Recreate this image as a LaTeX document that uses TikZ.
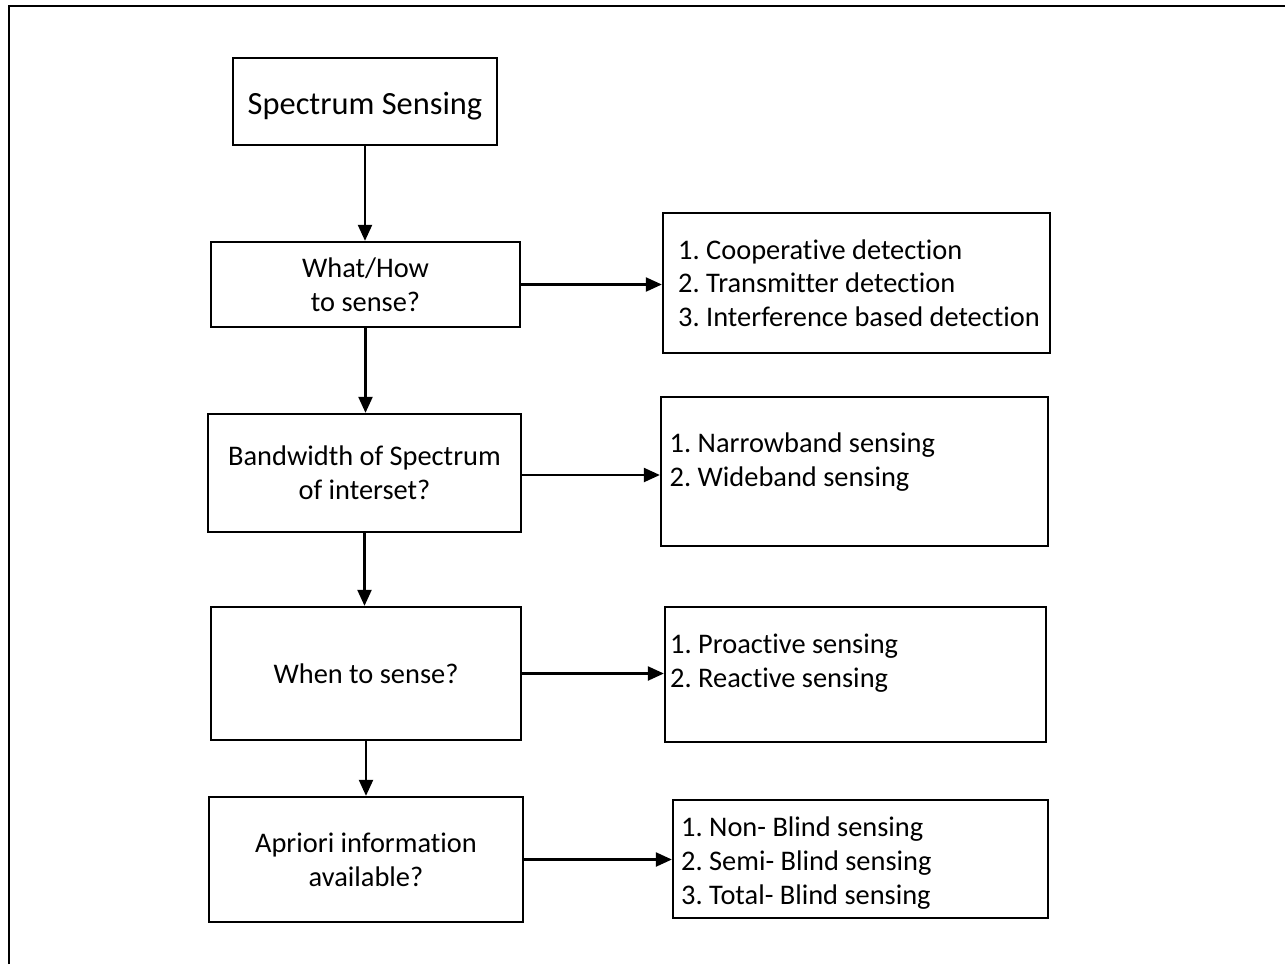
\documentclass[tikz,border=0pt]{standalone}
\usepackage{fontspec}
\setmainfont{Carlito}[Ligatures={NoCommon,NoRare}]
\frenchspacing
\usetikzlibrary{arrows.meta}
\begin{document}
\begin{tikzpicture}[x=1pt,y=-1pt,
  frame/.style={line width=2.4pt},
  stage/.style={draw,line width=2.3pt,inner sep=0pt,align=center,
    font=\fontsize{28.4}{34}\selectfont},
  title/.style={draw,line width=2.3pt,inner sep=0pt,
    text height=33pt,text depth=6.5pt,font=\fontsize{32.4}{38}\selectfont},
  listbox/.style={draw,line width=2.3pt,inner sep=0pt},
  item/.style={anchor=base west,inner sep=0pt,font=\fontsize{28.4}{34}\selectfont},
  flow/.style={line width=2.2pt,-{Triangle[length=16pt,width=14pt]}}
]
\useasboundingbox (0,0) rectangle (1285,964);

% outer frame (top and left edges only)
\coordinate (fbl) at (9,964);
\coordinate (ftl) at (9,6);
\coordinate (ftr) at (1285,6);
\draw[frame] (fbl) -- (ftl) -- (ftr);

% main column
\node[title,minimum width=264pt,minimum height=87pt] (s0) at (365,101.5) {Spectrum Sensing};
\node[stage,minimum width=309pt,minimum height=85pt] (s1) at (365.5,284.5) {What/How\\to sense?};
\node[stage,minimum width=313pt,minimum height=118pt] (s2) at (364.5,473) {Bandwidth of Spectrum\\of interset?};
\node[stage,minimum width=310pt,minimum height=133pt] (s3) at (366,673.5) {When to sense?};
\node[stage,minimum width=314pt,minimum height=125pt] (s4) at (366,859.5) {Apriori information\\available?};

% option boxes
\node[listbox,minimum width=387pt,minimum height=140pt] (r1) at (856.5,283) {};
\node[listbox,minimum width=387pt,minimum height=149pt] (r2) at (854.5,471.5) {};
\node[listbox,minimum width=381pt,minimum height=135pt] (r3) at (855.5,674.5) {};
\node[listbox,minimum width=375pt,minimum height=118pt] (r4) at (860.5,859) {};

% option lists
\node[item] (r1a) at (678,259) {1. Cooperative detection};
\node[item] (r1b) at (678,292.5) {2. Transmitter detection};
\node[item] (r1c) at (678,326) {3. Interference based detection};

\node[item] (r2a) at (669.5,452.5) {1. Narrowband sensing};
\node[item] (r2b) at (669.5,486.5) {2. Wideband sensing};

\node[item] (r3a) at (670,653) {1. Proactive sensing};
\node[item] (r3b) at (670,687) {2. Reactive sensing};

\node[item] (r4a) at (681,836) {1. Non- Blind sensing};
\node[item] (r4b) at (681,870) {2. Semi- Blind sensing};
\node[item] (r4c) at (681,904) {3. Total- Blind sensing};

% vertical flow
\draw[flow] (s0.south) -- (s0.south |- s1.north);
\draw[flow] (s1.south) -- (s1.south |- s2.north);
\draw[flow] (s2.south) -- (s2.south |- s3.north);
\draw[flow] (s3.south) -- (s3.south |- s4.north);

% horizontal flow
\draw[flow] (s1.east) -- (s1.east -| r1.west);
\draw[flow] ([yshift=-2pt]s2.east) -- ([yshift=-2pt]s2.east -| r2.west);
\draw[flow] (s3.east) -- (s3.east -| r3.west);
\draw[flow] (s4.east) -- (s4.east -| r4.west);
\end{tikzpicture}
\end{document}
